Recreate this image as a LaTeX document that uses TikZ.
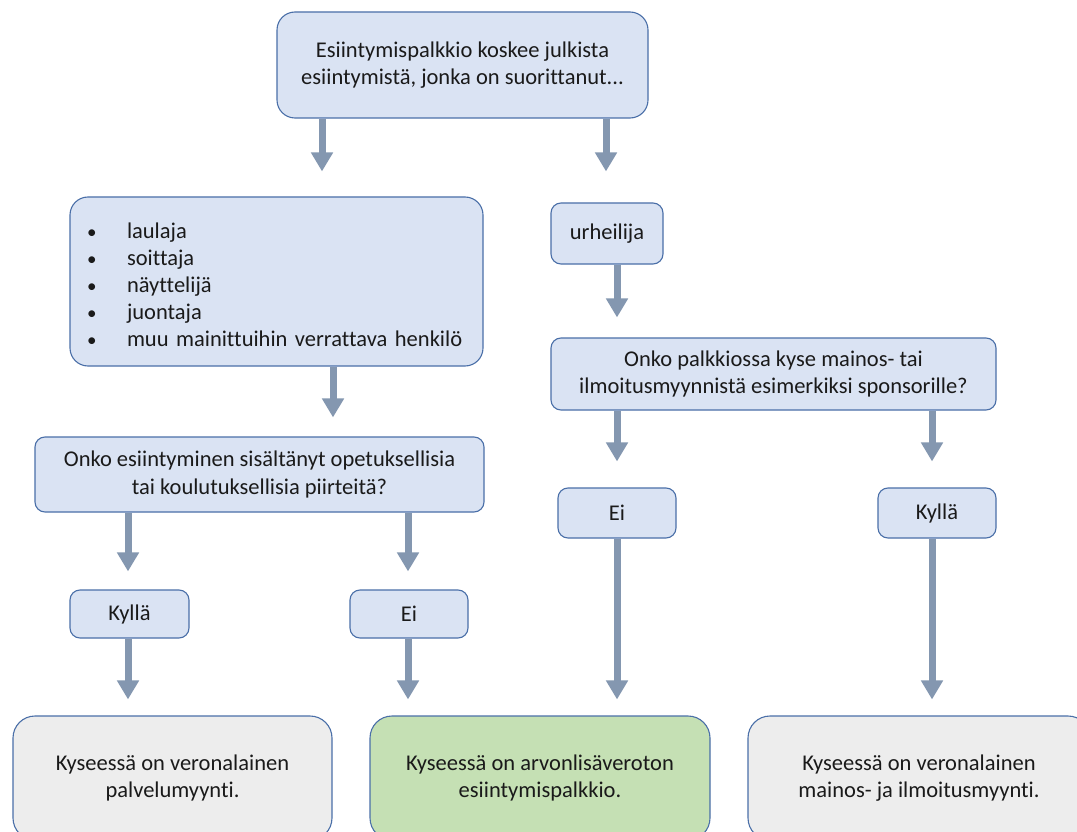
\documentclass[tikz,border=0pt]{standalone}
\usepackage{fontspec}
\setmainfont[Ligatures=NoCommon]{Carlito}
\usetikzlibrary{arrows.meta}
\definecolor{boxblue}{HTML}{DAE3F3}
\definecolor{edgeblue}{HTML}{4A6FA8}
\definecolor{arrowgray}{HTML}{8497B0}
\definecolor{boxgray}{HTML}{EDEDED}
\definecolor{boxgreen}{HTML}{C5E0B4}
\definecolor{txt}{HTML}{1A1A1A}
\newcommand{\bul}{\hspace*{-6pt}{\fontsize{19}{19}\selectfont\textbullet}}

\begin{document}
\begin{tikzpicture}[x=1pt, y=-1pt,
        box/.style={draw=edgeblue, line width=1.1pt, fill=boxblue, rounded corners=18pt,
            align=center, inner sep=0pt, text=txt, font=\fontsize{22.5}{27.5}\selectfont},
        small/.style={box, rounded corners=10pt},
        result/.style={box, fill=boxgray, rounded corners=22pt},
        arr/.style={draw=arrowgray, line width=7pt, -{Triangle[width=21pt,length=19pt]}}
    ]
        \clip (0,0) rectangle (1077,832);
        \fill[white] (0,0) rectangle (1077,832);

        \node[box, minimum width=371pt, minimum height=106pt] (top) at (462.5,65)
            {Esiintymispalkkio koskee julkista\\esiintymistä, jonka on suorittanut...};
        \node[box, minimum width=413pt, minimum height=169pt, text width=367pt, align=left] (bullets) at (276.5,281.5)
            {\vspace*{-12pt}\renewcommand{\arraystretch}{0.98}%
             \begin{tabular}{@{}p{34pt}@{}l@{}}
             \bul & laulaja\\
             \bul & soittaja\\
             \bul & näyttelijä\\
             \bul & juontaja\\
             \bul & muu mainittuihin verrattava henkilö
             \end{tabular}};
        \node[small, minimum width=112pt, minimum height=61pt] (urh) at (607,233.5) {urheilija};
        \node[small, minimum width=445pt, minimum height=72pt] (qright) at (773.5,374)
            {Onko palkkiossa kyse mainos- tai\\ilmoitusmyynnistä esimerkiksi sponsorille?};
        \node[small, minimum width=449pt, minimum height=75pt] (qleft) at (259.5,474.5)
            {Onko esiintyminen sisältänyt opetuksellisia\\tai koulutuksellisia piirteitä?};
        \node[small, minimum width=118pt, minimum height=50pt] (eiR) at (617,513) {Ei};
        \node[small, minimum width=118pt, minimum height=50pt] (kylR) at (937,513) {Kyllä};
        \node[small, minimum width=119pt, minimum height=48pt] (kylL) at (129.5,614) {Kyllä};
        \node[small, minimum width=118pt, minimum height=48pt] (eiL) at (409,614) {Ei};

        \node[result, minimum width=319pt, minimum height=124pt] (resL) at (172.5,778)
            {Kyseessä on veronalainen\\palvelumyynti.};
        \node[result, fill=boxgreen, minimum width=340pt, minimum height=124pt] (resM) at (540,778)
            {Kyseessä on arvonlisäveroton\\esiintymispalkkio.};
        \node[result, minimum width=342pt, minimum height=124pt] (resR) at (919,778)
            {Kyseessä on veronalainen\\mainos- ja ilmoitusmyynti.};

        % arrows
        \draw[arr, shorten >=25pt] (top.south -| 322,0) -- (bullets.north -| 322,0);
        \draw[arr, shorten >=31pt] (top.south -| 606,0) -- (urh.north -| 606,0);
        \draw[arr, shorten >=19pt] (bullets.south -| 333,0) -- (qleft.north -| 333,0);
        \draw[arr, shorten >=20pt] (urh.south -| 617,0) -- (qright.north -| 617,0);
        \draw[arr, shorten >=18pt] (qleft.south -| 128,0) -- (kylL.north -| 128,0);
        \draw[arr, shorten >=18pt] (qleft.south -| 408,0) -- (eiL.north -| 408,0);
        \draw[arr, shorten >=26pt] (qright.south -| 617,0) -- (eiR.north -| 617,0);
        \draw[arr, shorten >=26pt] (qright.south -| 932,0) -- (kylR.north -| 932,0);
        \draw[arr, shorten >=16pt] (kylL.south -| 128,0) -- (resL.north -| 128,0);
        \draw[arr, shorten >=16pt] (eiL.south -| 408,0) -- (resM.north -| 408,0);
        \draw[arr, shorten >=16pt] (eiR.south -| 617,0) -- (resM.north -| 617,0);
        \draw[arr, shorten >=16pt] (kylR.south -| 932,0) -- (resR.north -| 932,0);
    \end{tikzpicture}
\end{document}
